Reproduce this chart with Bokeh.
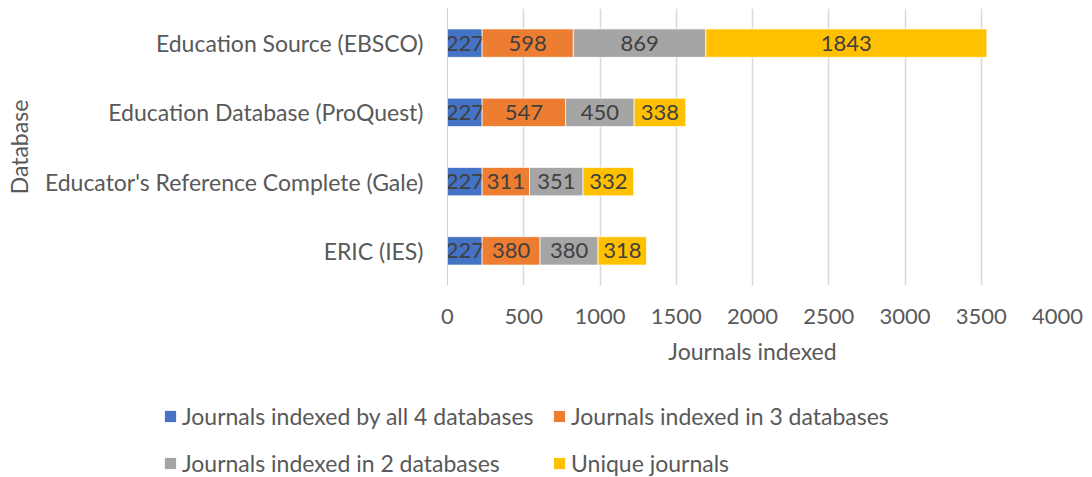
from bokeh.plotting import figure
from bokeh.models import Range1d, FactorRange, SingleIntervalTicker, Legend, LegendItem
from bokeh.core.properties import value
from bokeh.embed import file_html
from bokeh.resources import INLINE

# Data (top-to-bottom in the reference)
databases = ["Education Source (EBSCO)", "Education Database (ProQuest)",
             "Educator's Reference Complete (Gale)", "ERIC (IES)"]
series_names = ["Journals indexed by all 4 databases", "Journals indexed in 3 databases",
                "Journals indexed in 2 databases", "Unique journals"]
all4 = [227, 227, 227, 227]
in3 = [598, 547, 311, 380]
in2 = [869, 450, 351, 380]
unique = [1843, 338, 332, 318]
series_values = [all4, in3, in2, unique]
colors = ["#4472C4", "#ED7D31", "#A5A5A5", "#FFC000"]
x_ticks_interval = 500

FONT = "Lato"
TXT = "#595959"

p = figure(width=1092, height=377, output_backend="svg", toolbar_location=None,
           y_range=FactorRange(factors=list(reversed(databases))),
           x_range=Range1d(0, 4000),
           min_border_left=447, min_border_right=35, min_border_top=8, min_border_bottom=92)
p.outline_line_color = None
p.background_fill_color = "white"
p.border_fill_color = "white"

left = [0] * len(databases)
for name, vals, col in zip(series_names, series_values, colors):
    right = [l + v for l, v in zip(left, vals)]
    p.hbar(y=databases, left=left, right=right, height=0.41,
           fill_color=col, line_color="white", line_width=0.7)
    mids = [(l + rr) / 2 for l, rr in zip(left, right)]
    p.text(x=mids, y=databases, text=[str(v) for v in vals],
           text_align="center", text_baseline="middle",
           text_font=value(FONT), text_font_size="22px", text_color="#404040")
    left = right

# axes
p.xaxis.ticker = SingleIntervalTicker(interval=x_ticks_interval)
p.xaxis.axis_line_color = None
p.xaxis.major_tick_line_color = None
p.xaxis.minor_tick_line_color = None
p.xaxis.major_label_standoff = 17
p.xaxis.major_label_text_font = FONT
p.xaxis.major_label_text_font_size = "22px"
p.xaxis.major_label_text_color = TXT
p.xaxis.axis_label = "Journals indexed"
p.xaxis.axis_label_text_font = FONT
p.xaxis.axis_label_text_font_size = "23px"
p.xaxis.axis_label_text_font_style = "normal"
p.xaxis.axis_label_text_color = TXT
p.xaxis.axis_label_standoff = 10

p.yaxis.axis_line_color = "#D0D0D0"
p.yaxis.major_tick_line_color = None
p.yaxis.minor_tick_line_color = None
p.yaxis.major_label_standoff = 18
p.yaxis.major_label_text_font = FONT
p.yaxis.major_label_text_font_size = "23px"
p.yaxis.major_label_text_color = TXT
p.yaxis.axis_label = "Database"
p.yaxis.axis_label_text_font = FONT
p.yaxis.axis_label_text_font_size = "23px"
p.yaxis.axis_label_text_font_style = "normal"
p.yaxis.axis_label_text_color = TXT
p.yaxis.axis_label_standoff = 9

p.xgrid.grid_line_color = "#D9D9D9"
p.xgrid.grid_line_width = 1.5
p.ygrid.grid_line_color = None

# legend strip: a separate root whose frame spans the full width;
# its proxy bars lie outside its visible x range, so only the legend shows
lf = figure(width=1092, height=100, output_backend="svg", toolbar_location=None,
            x_range=Range1d(-2, -1), y_range=FactorRange(factors=list(reversed(databases))),
            min_border_left=0, min_border_right=0, min_border_top=0, min_border_bottom=0)
lf.axis.visible = False
lf.grid.visible = False
lf.outline_line_color = None
lf.border_fill_color = "white"
legend_renderers = [lf.hbar(y=databases, left=[0] * len(databases), right=vals, height=0.4,
                            fill_color=c, line_color=None)
                    for vals, c in zip(series_values, colors)]

def make_legend(idx, loc):
    lg = Legend(items=[LegendItem(label=series_names[i], renderers=[legend_renderers[i]]) for i in idx],
                location=loc, orientation="vertical")
    lg.label_text_font = FONT
    lg.label_text_font_size = "23px"
    lg.label_text_color = TXT
    lg.glyph_width = 14
    lg.glyph_height = 14
    lg.label_standoff = 5
    lg.label_height = 24
    lg.spacing = 19
    lg.padding = 0
    lg.margin = 0
    lg.border_line_color = None
    lg.background_fill_alpha = 0
    return lg

lf.add_layout(make_legend([0, 2], (163, 0)))
lf.add_layout(make_legend([1, 3], (552, 0)))

open("out.html", "w").write(file_html([p, lf], INLINE))
